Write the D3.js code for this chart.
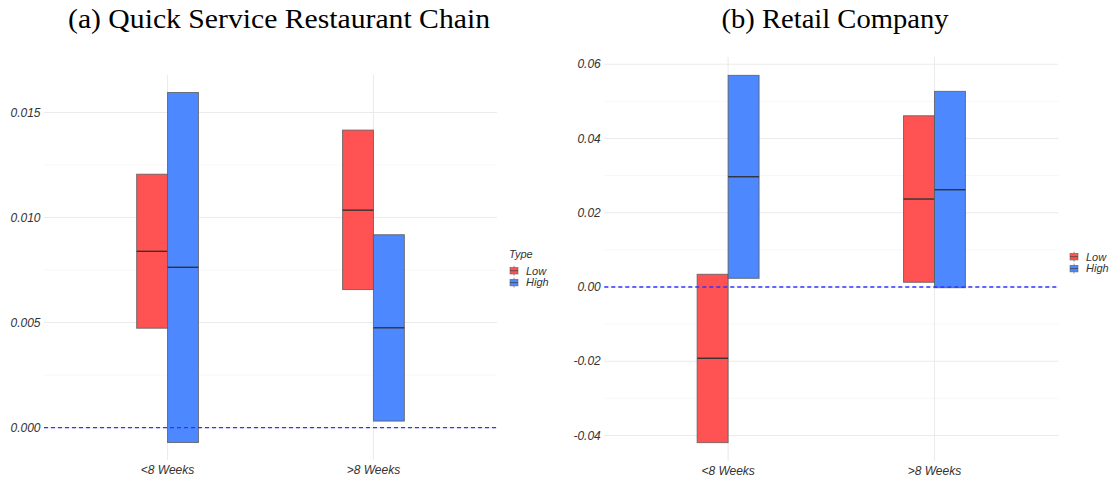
<!DOCTYPE html>
<html>
<head>
<meta charset="utf-8">
<script src="https://cdn.jsdelivr.net/npm/d3@7"></script>
<style>
  html, body { margin: 0; padding: 0; background: #fff; }
  svg { display: block; }
  .title { font-family: "Liberation Serif", "Times New Roman", serif; font-size: 27px; fill: #000; }
  .tick-label { font-family: "Liberation Sans", Arial, sans-serif; font-style: italic; font-size: 12px; fill: #333; }
  .legend-text { font-family: "Liberation Sans", Arial, sans-serif; font-style: italic; font-size: 11px; fill: #333; }
</style>
</head>
<body>
<svg id="chart" width="1116" height="479"></svg>
<script>
// Week-window categories and treatment types
const categories = ["<8 Weeks", ">8 Weeks"];
const types = ["Low", "High"];
const typeColors = ["#ff5252", "#4d88ff"];

// Quick service restaurant chain: lower / middle / upper per category
const qsrLowLower = [0.00473, 0.00657];
const qsrLowMiddle = [0.00839, 0.01035];
const qsrLowUpper = [0.01206, 0.01416];
const qsrHighLower = [-0.00071, 0.00031];
const qsrHighMiddle = [0.00763, 0.00475];
const qsrHighUpper = [0.01595, 0.00918];
const qsrTicks = [0.000, 0.005, 0.010, 0.015];

// Retail company: lower / middle / upper per category
const retailLowLower = [-0.04191, 0.00127];
const retailLowMiddle = [-0.01919, 0.02369];
const retailLowUpper = [0.00342, 0.04611];
const retailHighLower = [0.00234, -0.00019];
const retailHighMiddle = [0.02969, 0.02619];
const retailHighUpper = [0.05699, 0.05268];
const retailTicks = [-0.04, -0.02, 0.00, 0.02, 0.04, 0.06];

const svg = d3.select("#chart");

function buildRows(low, high) {
  const rows = [];
  categories.forEach((c, i) => {
    rows.push({ cat: c, type: types[0], lower: low[0][i], middle: low[1][i], upper: low[2][i] });
    rows.push({ cat: c, type: types[1], lower: high[0][i], middle: high[1][i], upper: high[2][i] });
  });
  return rows;
}

function drawPanel(opt) {
  const g = svg.append("g");
  const rows = opt.rows;
  const lo = d3.min(rows, d => d.lower), hi = d3.max(rows, d => d.upper);
  const pad = (hi - lo) * 0.05;
  const y = d3.scaleLinear().domain([lo - pad, hi + pad]).range([opt.bottom, opt.top]);
  // discrete x with 0.6 expansion on each side
  const x = d3.scalePoint().domain(categories).range([opt.left, opt.right]).padding(0.6);
  const step = x.step();
  const dodge = d3.scaleBand().domain(types).range([-0.15 * step, 0.15 * step]).padding(0);
  const color = d3.scaleOrdinal().domain(types).range(typeColors);

  // grid: minor between majors, then majors
  const t = opt.ticks;
  const stepT = t[1] - t[0];
  const minor = [];
  for (let i = -1; i < t.length; i++) {
    const v = t[0] + (i + 0.5) * stepT;
    const [d0, d1] = y.domain();
    if (v > d0 && v < d1) minor.push(v);
  }
  g.selectAll(".minor").data(minor).join("line")
    .attr("x1", opt.left).attr("x2", opt.right)
    .attr("y1", d => y(d)).attr("y2", d => y(d))
    .attr("stroke", "#f2f2f2").attr("stroke-width", 0.6);
  g.selectAll(".major").data(t).join("line")
    .attr("x1", opt.left).attr("x2", opt.right)
    .attr("y1", d => y(d)).attr("y2", d => y(d))
    .attr("stroke", "#ebebeb").attr("stroke-width", 1.1);
  g.selectAll(".vmajor").data(categories).join("line")
    .attr("x1", d => x(d)).attr("x2", d => x(d))
    .attr("y1", opt.top).attr("y2", opt.bottom)
    .attr("stroke", "#ebebeb").attr("stroke-width", 1.1);

  // y axis labels
  const fmt = d3.format(opt.fmt);
  g.selectAll(".ylab").data(t).join("text")
    .attr("class", "tick-label")
    .attr("x", opt.left - 3.5).attr("y", d => y(d))
    .attr("dy", "0.35em").attr("text-anchor", "end")
    .text(d => fmt(d).replace("\u2212", "-"));

  // x axis labels
  g.selectAll(".xlab").data(categories).join("text")
    .attr("class", "tick-label")
    .attr("x", d => x(d)).attr("y", opt.bottom + 13.5)
    .attr("text-anchor", "middle")
    .text(d => d);

  // boxes
  const box = g.selectAll(".box").data(rows).join("g");
  box.append("rect")
    .attr("x", d => x(d.cat) + dodge(d.type))
    .attr("width", dodge.bandwidth())
    .attr("y", d => y(d.upper))
    .attr("height", d => y(d.lower) - y(d.upper))
    .attr("fill", d => color(d.type))
    .attr("stroke", "#5a5a5a").attr("stroke-opacity", 0.8).attr("stroke-width", 1);
  box.append("line")
    .attr("x1", d => x(d.cat) + dodge(d.type))
    .attr("x2", d => x(d.cat) + dodge(d.type) + dodge.bandwidth())
    .attr("y1", d => y(d.middle)).attr("y2", d => y(d.middle))
    .attr("stroke", "#333").attr("stroke-width", 1.4);

  // zero reference line
  g.append("line")
    .attr("x1", opt.left).attr("x2", opt.right)
    .attr("y1", y(0)).attr("y2", y(0))
    .attr("stroke", "#3333ff").attr("stroke-width", 1.3)
    .attr("stroke-dasharray", "4,3");

  // title
  g.append("text").attr("class", "title")
    .attr("x", opt.titleX).attr("y", 27.5)
    .attr("text-anchor", "middle")
    .attr("textLength", opt.titleWidth).attr("lengthAdjust", "spacingAndGlyphs")
    .text(opt.title);

  // legend
  const lg = g.append("g");
  if (opt.legendTitle) {
    lg.append("text").attr("class", "legend-text")
      .attr("x", opt.legendX - 1).attr("y", opt.legendY - 12.5)
      .text(opt.legendTitle);
  }
  types.forEach((tp, i) => {
    const cy = opt.legendY + i * 11.9;
    const k = lg.append("g");
    k.append("line").attr("x1", opt.legendX + 4).attr("x2", opt.legendX + 4)
      .attr("y1", cy - 5).attr("y2", cy + 5).attr("stroke", "#777").attr("stroke-width", 0.8);
    k.append("rect").attr("x", opt.legendX).attr("y", cy - 3.3)
      .attr("width", 8).attr("height", 6.6)
      .attr("fill", typeColors[i]).attr("stroke", "#666").attr("stroke-width", 0.6);
    k.append("line").attr("x1", opt.legendX).attr("x2", opt.legendX + 8)
      .attr("y1", cy).attr("y2", cy).attr("stroke", "#444").attr("stroke-width", 0.8);
    lg.append("text").attr("class", "legend-text")
      .attr("x", opt.legendX + 16).attr("y", cy).attr("dy", "0.35em")
      .text(tp);
  });
}

drawPanel({
  rows: buildRows([qsrLowLower, qsrLowMiddle, qsrLowUpper], [qsrHighLower, qsrHighMiddle, qsrHighUpper]),
  ticks: qsrTicks, fmt: ".3f",
  left: 44, right: 497, top: 75, bottom: 460,
  title: "(a) Quick Service Restaurant Chain", titleX: 279, titleWidth: 422,
  legendTitle: "Type", legendX: 510, legendY: 270.7
});

drawPanel({
  rows: buildRows([retailLowLower, retailLowMiddle, retailLowUpper], [retailHighLower, retailHighMiddle, retailHighUpper]),
  ticks: retailTicks, fmt: ".2f",
  left: 604.3, right: 1058.3, top: 57, bottom: 461,
  title: "(b) Retail Company", titleX: 835, titleWidth: 227,
  legendTitle: null, legendX: 1070, legendY: 256.7
});
</script>
</body>
</html>
